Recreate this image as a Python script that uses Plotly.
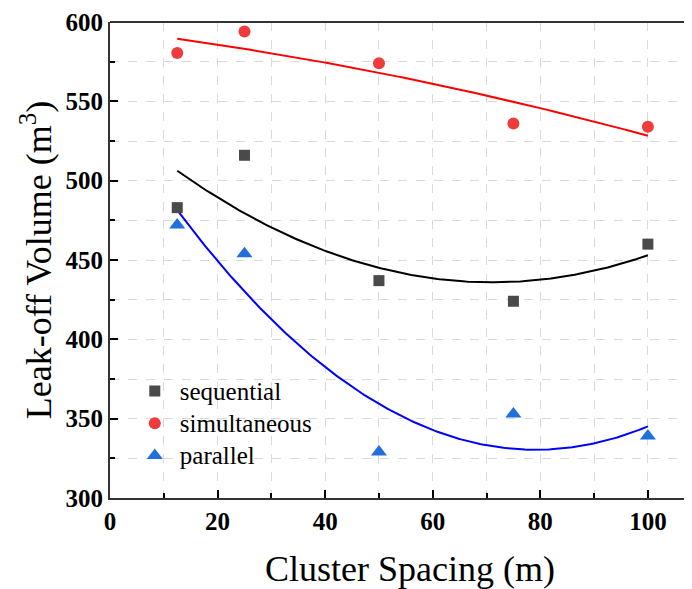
import numpy as np
import plotly.graph_objects as go

spacing = [12.5, 25, 50, 75, 100]
sequential = [483, 516, 437, 424, 460]
simultaneous = [580.5, 594, 574, 536, 534]
parallel = [472, 454, 329, 353, 339]

x_ticks = [0, 20, 40, 60, 80, 100]
y_ticks = [300, 350, 400, 450, 500, 550, 600]

FONT = "Liberation Serif, Times New Roman, serif"

fig = go.Figure()

series = [
    ("sequential", sequential, "square", "#4a4a4a", "#000000", 11),
    ("simultaneous", simultaneous, "circle", "#ef3b3b", "#ff0000", 12),
    ("parallel", parallel, "triangle-up", "#1f6fdc", "#0000ff", 14),
]

xfit = np.linspace(min(spacing), max(spacing), 200)
for name, vals, sym, mcol, lcol, ms in series:
    coef = np.polyfit(spacing, vals, 2)
    fig.add_trace(go.Scatter(x=xfit, y=np.polyval(coef, xfit), mode="lines",
                             line=dict(color=lcol, width=2), showlegend=False,
                             hoverinfo="skip"))
for name, vals, sym, mcol, lcol, ms in series:
    fig.add_trace(go.Scatter(x=spacing, y=vals, mode="markers",
                             name='<span style="font-size:25px">%s</span>' % name,
                             marker=dict(symbol=sym, color=mcol, size=ms,
                                         line=dict(width=0))))

fig.update_layout(
    width=684, height=581,
    margin=dict(l=102, r=0, t=14, b=91),
    paper_bgcolor="white", plot_bgcolor="white",
    font=dict(family=FONT, color="black"),
    xaxis=dict(range=[0, 108.2], tickvals=x_ticks,
               ticktext=["<b>%d</b>" % v for v in x_ticks],
               ticks="inside", ticklen=8,
               tickwidth=1.5, tickcolor="black", automargin=False,
               showline=True, linecolor="#333333", linewidth=2,
               showgrid=True, gridcolor="#d9d9d9", griddash="dash", gridwidth=1,
               minor=dict(dtick=10, ticks="inside", ticklen=5, tickcolor="black",
                          showgrid=True, gridcolor="#d9d9d9", griddash="dash"),
               tickfont=dict(family=FONT, size=25, color="black"),
               title=dict(text="&nbsp;&nbsp;Cluster Spacing (m)",
                          font=dict(family=FONT, size=36), standoff=24),
               zeroline=False),
    yaxis=dict(range=[300, 600], tickvals=y_ticks,
               ticktext=["<b>%d</b>" % v for v in y_ticks],
               ticks="inside", ticklen=8,
               tickwidth=1.5, tickcolor="black", automargin=False,
               showline=True, linecolor="#333333", linewidth=2,
               showgrid=True, gridcolor="#d9d9d9", griddash="dash", gridwidth=1,
               minor=dict(dtick=25, ticks="inside", ticklen=5, tickcolor="black",
                          showgrid=True, gridcolor="#d9d9d9", griddash="dash"),
               tickfont=dict(family=FONT, size=25, color="black"),
               title=dict(text="Leak-off Volume (m<sup>3</sup>)",
                          font=dict(family=FONT, size=36), standoff=3),
               zeroline=False),
    legend=dict(x=0.034, y=0.269, xanchor="left", yanchor="top",
                bgcolor="rgba(0,0,0,0)", borderwidth=0,
                font=dict(family=FONT, size=22.5, color="black"),
                itemwidth=40, tracegroupgap=0),
    shapes=[dict(type="line", xref="paper", yref="paper", x0=0, x1=1, y0=1, y1=1,
                 line=dict(color="#333333", width=2))],
)

fig.write_html("out.html")
